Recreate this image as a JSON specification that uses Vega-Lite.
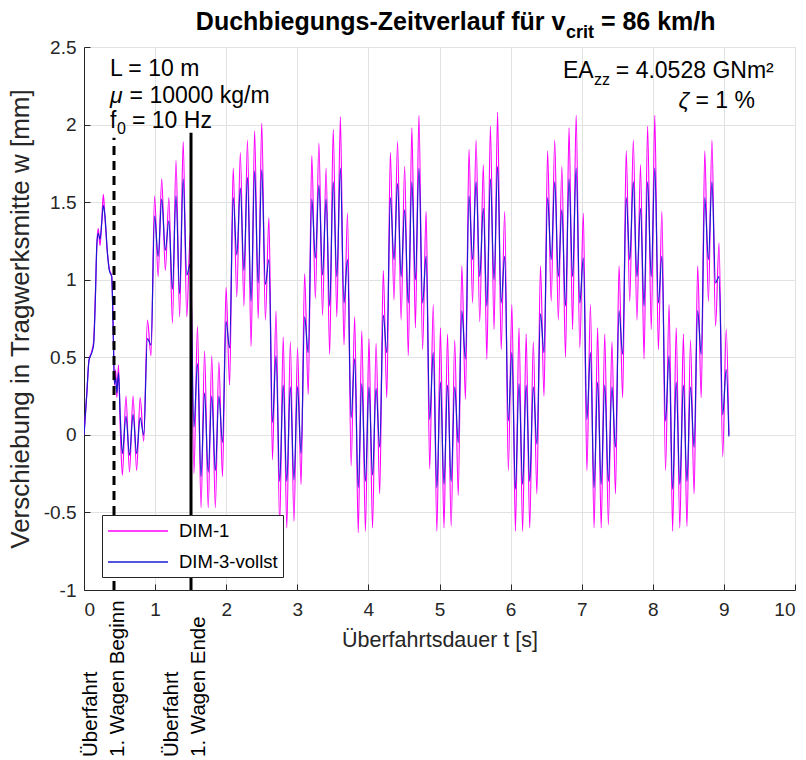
{
  "$schema": "https://vega.github.io/schema/vega-lite/v6.json",
  "width": 711,
  "height": 543,
  "autosize": {"type": "none"},
  "padding": {"left": 84, "top": 47, "right": 11, "bottom": 170},
  "background": "white",
  "config": {"view": {"stroke": null}, "font": "Liberation Sans"},
  "data": {"values": [{"anker": 1}]},
  "layer": [
    {
      "data": {"values": [
        {"t": 0.000, "DIM-1": 0.00, "DIM-3-vollst": 0.00},
        {"t": 0.040, "DIM-1": 0.27, "DIM-3-vollst": 0.27},
        {"t": 0.070, "DIM-1": 0.48, "DIM-3-vollst": 0.48},
        {"t": 0.110, "DIM-1": 0.54, "DIM-3-vollst": 0.53},
        {"t": 0.135, "DIM-1": 0.60, "DIM-3-vollst": 0.58},
        {"t": 0.160, "DIM-1": 0.90, "DIM-3-vollst": 0.88},
        {"t": 0.180, "DIM-1": 1.22, "DIM-3-vollst": 1.22},
        {"t": 0.200, "DIM-1": 1.33, "DIM-3-vollst": 1.30},
        {"t": 0.225, "DIM-1": 1.22, "DIM-3-vollst": 1.26},
        {"t": 0.250, "DIM-1": 1.38, "DIM-3-vollst": 1.37},
        {"t": 0.272, "DIM-1": 1.55, "DIM-3-vollst": 1.48},
        {"t": 0.295, "DIM-1": 1.40, "DIM-3-vollst": 1.41},
        {"t": 0.330, "DIM-1": 1.17, "DIM-3-vollst": 1.17},
        {"t": 0.356, "DIM-1": 1.07, "DIM-3-vollst": 1.06},
        {"t": 0.390, "DIM-1": 1.02, "DIM-3-vollst": 1.02},
        {"t": 0.410, "DIM-1": 0.72, "DIM-3-vollst": 0.68},
        {"t": 0.428, "DIM-1": 0.32, "DIM-3-vollst": 0.33},
        {"t": 0.445, "DIM-1": 0.42, "DIM-3-vollst": 0.37},
        {"t": 0.462, "DIM-1": 0.24, "DIM-3-vollst": 0.27},
        {"t": 0.485, "DIM-1": 0.45, "DIM-3-vollst": 0.40},
        {"t": 0.510, "DIM-1": 0.05, "DIM-3-vollst": 0.12},
        {"t": 0.540, "DIM-1": -0.26, "DIM-3-vollst": -0.12},
        {"t": 0.590, "DIM-1": 0.25, "DIM-3-vollst": 0.12},
        {"t": 0.640, "DIM-1": -0.24, "DIM-3-vollst": -0.13},
        {"t": 0.690, "DIM-1": 0.25, "DIM-3-vollst": 0.13},
        {"t": 0.740, "DIM-1": -0.23, "DIM-3-vollst": -0.12},
        {"t": 0.790, "DIM-1": 0.24, "DIM-3-vollst": 0.11},
        {"t": 0.840, "DIM-1": -0.04, "DIM-3-vollst": 0.00},
        {"t": 0.892, "DIM-1": 0.74, "DIM-3-vollst": 0.62},
        {"t": 0.943, "DIM-1": 0.51, "DIM-3-vollst": 0.58},
        {"t": 0.993, "DIM-1": 1.54, "DIM-3-vollst": 1.41},
        {"t": 1.043, "DIM-1": 1.02, "DIM-3-vollst": 1.15},
        {"t": 1.093, "DIM-1": 1.65, "DIM-3-vollst": 1.52},
        {"t": 1.144, "DIM-1": 1.06, "DIM-3-vollst": 1.19},
        {"t": 1.194, "DIM-1": 1.53, "DIM-3-vollst": 1.38},
        {"t": 1.244, "DIM-1": 0.72, "DIM-3-vollst": 0.94},
        {"t": 1.294, "DIM-1": 1.77, "DIM-3-vollst": 1.54},
        {"t": 1.345, "DIM-1": 0.76, "DIM-3-vollst": 0.91},
        {"t": 1.395, "DIM-1": 1.89, "DIM-3-vollst": 1.65},
        {"t": 1.445, "DIM-1": 0.76, "DIM-3-vollst": 1.03},
        {"t": 1.495, "DIM-1": 1.30, "DIM-3-vollst": 1.10},
        {"t": 1.546, "DIM-1": -0.25, "DIM-3-vollst": 0.05},
        {"t": 1.596, "DIM-1": 0.70, "DIM-3-vollst": 0.46},
        {"t": 1.646, "DIM-1": -0.47, "DIM-3-vollst": -0.27},
        {"t": 1.696, "DIM-1": 0.54, "DIM-3-vollst": 0.27},
        {"t": 1.747, "DIM-1": -0.47, "DIM-3-vollst": -0.24},
        {"t": 1.797, "DIM-1": 0.51, "DIM-3-vollst": 0.25},
        {"t": 1.847, "DIM-1": -0.47, "DIM-3-vollst": -0.23},
        {"t": 1.897, "DIM-1": 0.47, "DIM-3-vollst": 0.25},
        {"t": 1.948, "DIM-1": -0.27, "DIM-3-vollst": -0.05},
        {"t": 1.998, "DIM-1": 0.95, "DIM-3-vollst": 0.73},
        {"t": 2.048, "DIM-1": 0.32, "DIM-3-vollst": 0.56},
        {"t": 2.098, "DIM-1": 1.72, "DIM-3-vollst": 1.53},
        {"t": 2.149, "DIM-1": 0.89, "DIM-3-vollst": 1.16},
        {"t": 2.199, "DIM-1": 1.82, "DIM-3-vollst": 1.59},
        {"t": 2.249, "DIM-1": 0.83, "DIM-3-vollst": 1.06},
        {"t": 2.299, "DIM-1": 1.90, "DIM-3-vollst": 1.66},
        {"t": 2.350, "DIM-1": 0.57, "DIM-3-vollst": 0.86},
        {"t": 2.400, "DIM-1": 1.96, "DIM-3-vollst": 1.70},
        {"t": 2.450, "DIM-1": 0.75, "DIM-3-vollst": 0.98},
        {"t": 2.500, "DIM-1": 2.01, "DIM-3-vollst": 1.71},
        {"t": 2.551, "DIM-1": 0.74, "DIM-3-vollst": 0.97},
        {"t": 2.601, "DIM-1": 1.40, "DIM-3-vollst": 1.13},
        {"t": 2.651, "DIM-1": -0.16, "DIM-3-vollst": 0.08},
        {"t": 2.701, "DIM-1": 0.80, "DIM-3-vollst": 0.51},
        {"t": 2.752, "DIM-1": -0.58, "DIM-3-vollst": -0.30},
        {"t": 2.802, "DIM-1": 0.63, "DIM-3-vollst": 0.32},
        {"t": 2.852, "DIM-1": -0.60, "DIM-3-vollst": -0.30},
        {"t": 2.902, "DIM-1": 0.60, "DIM-3-vollst": 0.31},
        {"t": 2.953, "DIM-1": -0.56, "DIM-3-vollst": -0.29},
        {"t": 3.003, "DIM-1": 0.56, "DIM-3-vollst": 0.31},
        {"t": 3.053, "DIM-1": -0.32, "DIM-3-vollst": -0.12},
        {"t": 3.103, "DIM-1": 1.04, "DIM-3-vollst": 0.76},
        {"t": 3.154, "DIM-1": 0.26, "DIM-3-vollst": 0.53},
        {"t": 3.204, "DIM-1": 1.80, "DIM-3-vollst": 1.52},
        {"t": 3.254, "DIM-1": 0.88, "DIM-3-vollst": 1.14},
        {"t": 3.304, "DIM-1": 1.88, "DIM-3-vollst": 1.61},
        {"t": 3.355, "DIM-1": 0.77, "DIM-3-vollst": 1.03},
        {"t": 3.405, "DIM-1": 1.72, "DIM-3-vollst": 1.52},
        {"t": 3.455, "DIM-1": 0.52, "DIM-3-vollst": 0.83},
        {"t": 3.505, "DIM-1": 1.97, "DIM-3-vollst": 1.63},
        {"t": 3.556, "DIM-1": 0.76, "DIM-3-vollst": 1.02},
        {"t": 3.606, "DIM-1": 2.05, "DIM-3-vollst": 1.72},
        {"t": 3.656, "DIM-1": 0.58, "DIM-3-vollst": 0.85},
        {"t": 3.706, "DIM-1": 1.43, "DIM-3-vollst": 1.13},
        {"t": 3.757, "DIM-1": -0.20, "DIM-3-vollst": 0.11},
        {"t": 3.807, "DIM-1": 0.76, "DIM-3-vollst": 0.49},
        {"t": 3.857, "DIM-1": -0.63, "DIM-3-vollst": -0.34},
        {"t": 3.907, "DIM-1": 0.67, "DIM-3-vollst": 0.33},
        {"t": 3.958, "DIM-1": -0.62, "DIM-3-vollst": -0.30},
        {"t": 4.008, "DIM-1": 0.62, "DIM-3-vollst": 0.31},
        {"t": 4.058, "DIM-1": -0.60, "DIM-3-vollst": -0.26},
        {"t": 4.108, "DIM-1": 0.59, "DIM-3-vollst": 0.30},
        {"t": 4.159, "DIM-1": -0.38, "DIM-3-vollst": -0.08},
        {"t": 4.209, "DIM-1": 1.06, "DIM-3-vollst": 0.77},
        {"t": 4.259, "DIM-1": 0.24, "DIM-3-vollst": 0.53},
        {"t": 4.309, "DIM-1": 1.82, "DIM-3-vollst": 1.53},
        {"t": 4.360, "DIM-1": 0.87, "DIM-3-vollst": 1.13},
        {"t": 4.410, "DIM-1": 1.89, "DIM-3-vollst": 1.62},
        {"t": 4.460, "DIM-1": 0.74, "DIM-3-vollst": 1.02},
        {"t": 4.510, "DIM-1": 1.73, "DIM-3-vollst": 1.45},
        {"t": 4.561, "DIM-1": 0.51, "DIM-3-vollst": 0.85},
        {"t": 4.611, "DIM-1": 1.98, "DIM-3-vollst": 1.63},
        {"t": 4.661, "DIM-1": 0.69, "DIM-3-vollst": 1.00},
        {"t": 4.711, "DIM-1": 2.06, "DIM-3-vollst": 1.72},
        {"t": 4.762, "DIM-1": 0.55, "DIM-3-vollst": 0.85},
        {"t": 4.812, "DIM-1": 1.44, "DIM-3-vollst": 1.15},
        {"t": 4.862, "DIM-1": -0.22, "DIM-3-vollst": 0.10},
        {"t": 4.912, "DIM-1": 0.84, "DIM-3-vollst": 0.53},
        {"t": 4.963, "DIM-1": -0.62, "DIM-3-vollst": -0.34},
        {"t": 5.013, "DIM-1": 0.69, "DIM-3-vollst": 0.34},
        {"t": 5.063, "DIM-1": -0.60, "DIM-3-vollst": -0.32},
        {"t": 5.113, "DIM-1": 0.65, "DIM-3-vollst": 0.32},
        {"t": 5.164, "DIM-1": -0.59, "DIM-3-vollst": -0.30},
        {"t": 5.214, "DIM-1": 0.61, "DIM-3-vollst": 0.31},
        {"t": 5.264, "DIM-1": -0.39, "DIM-3-vollst": -0.05},
        {"t": 5.314, "DIM-1": 1.09, "DIM-3-vollst": 0.80},
        {"t": 5.365, "DIM-1": 0.23, "DIM-3-vollst": 0.49},
        {"t": 5.415, "DIM-1": 1.84, "DIM-3-vollst": 1.54},
        {"t": 5.465, "DIM-1": 0.85, "DIM-3-vollst": 1.13},
        {"t": 5.515, "DIM-1": 1.90, "DIM-3-vollst": 1.63},
        {"t": 5.566, "DIM-1": 0.73, "DIM-3-vollst": 1.02},
        {"t": 5.616, "DIM-1": 1.74, "DIM-3-vollst": 1.46},
        {"t": 5.666, "DIM-1": 0.49, "DIM-3-vollst": 0.83},
        {"t": 5.716, "DIM-1": 1.99, "DIM-3-vollst": 1.65},
        {"t": 5.767, "DIM-1": 0.68, "DIM-3-vollst": 1.00},
        {"t": 5.817, "DIM-1": 2.08, "DIM-3-vollst": 1.73},
        {"t": 5.867, "DIM-1": 0.55, "DIM-3-vollst": 0.85},
        {"t": 5.917, "DIM-1": 1.44, "DIM-3-vollst": 1.15},
        {"t": 5.968, "DIM-1": -0.23, "DIM-3-vollst": 0.09},
        {"t": 6.018, "DIM-1": 0.84, "DIM-3-vollst": 0.53},
        {"t": 6.068, "DIM-1": -0.62, "DIM-3-vollst": -0.35},
        {"t": 6.118, "DIM-1": 0.69, "DIM-3-vollst": 0.33},
        {"t": 6.169, "DIM-1": -0.62, "DIM-3-vollst": -0.32},
        {"t": 6.219, "DIM-1": 0.65, "DIM-3-vollst": 0.32},
        {"t": 6.269, "DIM-1": -0.60, "DIM-3-vollst": -0.30},
        {"t": 6.319, "DIM-1": 0.60, "DIM-3-vollst": 0.31},
        {"t": 6.370, "DIM-1": -0.38, "DIM-3-vollst": -0.06},
        {"t": 6.420, "DIM-1": 1.09, "DIM-3-vollst": 0.78},
        {"t": 6.470, "DIM-1": 0.25, "DIM-3-vollst": 0.53},
        {"t": 6.520, "DIM-1": 1.83, "DIM-3-vollst": 1.53},
        {"t": 6.571, "DIM-1": 0.86, "DIM-3-vollst": 1.13},
        {"t": 6.621, "DIM-1": 1.90, "DIM-3-vollst": 1.63},
        {"t": 6.671, "DIM-1": 0.74, "DIM-3-vollst": 1.02},
        {"t": 6.721, "DIM-1": 1.73, "DIM-3-vollst": 1.45},
        {"t": 6.772, "DIM-1": 0.50, "DIM-3-vollst": 0.83},
        {"t": 6.822, "DIM-1": 1.98, "DIM-3-vollst": 1.65},
        {"t": 6.872, "DIM-1": 0.68, "DIM-3-vollst": 1.02},
        {"t": 6.922, "DIM-1": 2.06, "DIM-3-vollst": 1.72},
        {"t": 6.973, "DIM-1": 0.56, "DIM-3-vollst": 0.85},
        {"t": 7.023, "DIM-1": 1.43, "DIM-3-vollst": 1.14},
        {"t": 7.073, "DIM-1": -0.23, "DIM-3-vollst": 0.10},
        {"t": 7.123, "DIM-1": 0.84, "DIM-3-vollst": 0.53},
        {"t": 7.174, "DIM-1": -0.60, "DIM-3-vollst": -0.34},
        {"t": 7.224, "DIM-1": 0.69, "DIM-3-vollst": 0.34},
        {"t": 7.274, "DIM-1": -0.60, "DIM-3-vollst": -0.32},
        {"t": 7.324, "DIM-1": 0.65, "DIM-3-vollst": 0.32},
        {"t": 7.375, "DIM-1": -0.58, "DIM-3-vollst": -0.30},
        {"t": 7.425, "DIM-1": 0.60, "DIM-3-vollst": 0.31},
        {"t": 7.475, "DIM-1": -0.38, "DIM-3-vollst": -0.08},
        {"t": 7.525, "DIM-1": 1.09, "DIM-3-vollst": 0.80},
        {"t": 7.576, "DIM-1": 0.24, "DIM-3-vollst": 0.52},
        {"t": 7.626, "DIM-1": 1.83, "DIM-3-vollst": 1.53},
        {"t": 7.676, "DIM-1": 0.86, "DIM-3-vollst": 1.13},
        {"t": 7.726, "DIM-1": 1.90, "DIM-3-vollst": 1.63},
        {"t": 7.777, "DIM-1": 0.74, "DIM-3-vollst": 1.02},
        {"t": 7.827, "DIM-1": 1.74, "DIM-3-vollst": 1.46},
        {"t": 7.877, "DIM-1": 0.49, "DIM-3-vollst": 0.83},
        {"t": 7.927, "DIM-1": 1.99, "DIM-3-vollst": 1.63},
        {"t": 7.978, "DIM-1": 0.68, "DIM-3-vollst": 1.02},
        {"t": 8.028, "DIM-1": 2.06, "DIM-3-vollst": 1.72},
        {"t": 8.078, "DIM-1": 0.55, "DIM-3-vollst": 0.85},
        {"t": 8.128, "DIM-1": 1.44, "DIM-3-vollst": 1.15},
        {"t": 8.179, "DIM-1": -0.23, "DIM-3-vollst": 0.09},
        {"t": 8.229, "DIM-1": 0.84, "DIM-3-vollst": 0.51},
        {"t": 8.279, "DIM-1": -0.62, "DIM-3-vollst": -0.35},
        {"t": 8.329, "DIM-1": 0.69, "DIM-3-vollst": 0.34},
        {"t": 8.380, "DIM-1": -0.60, "DIM-3-vollst": -0.32},
        {"t": 8.430, "DIM-1": 0.65, "DIM-3-vollst": 0.32},
        {"t": 8.480, "DIM-1": -0.59, "DIM-3-vollst": -0.30},
        {"t": 8.530, "DIM-1": 0.61, "DIM-3-vollst": 0.31},
        {"t": 8.581, "DIM-1": -0.38, "DIM-3-vollst": -0.08},
        {"t": 8.631, "DIM-1": 1.09, "DIM-3-vollst": 0.80},
        {"t": 8.681, "DIM-1": 0.24, "DIM-3-vollst": 0.52},
        {"t": 8.731, "DIM-1": 1.83, "DIM-3-vollst": 1.53},
        {"t": 8.782, "DIM-1": 0.86, "DIM-3-vollst": 1.13},
        {"t": 8.832, "DIM-1": 1.90, "DIM-3-vollst": 1.63},
        {"t": 8.882, "DIM-1": 0.70, "DIM-3-vollst": 0.98},
        {"t": 8.932, "DIM-1": 1.24, "DIM-3-vollst": 1.02},
        {"t": 8.983, "DIM-1": -0.14, "DIM-3-vollst": 0.13},
        {"t": 9.033, "DIM-1": 0.68, "DIM-3-vollst": 0.42},
        {"t": 9.070, "DIM-1": 0.00, "DIM-3-vollst": -0.01}
      ]},
      "transform": [{"fold": ["DIM-1", "DIM-3-vollst"], "as": ["Modell", "w"]}],
      "mark": {"type": "line", "strokeWidth": 1.2, "interpolate": "monotone", "clip": true},
      "encoding": {
        "x": {
          "field": "t", "type": "quantitative",
          "scale": {"domain": [0, 10], "nice": false, "zero": false},
          "axis": {
            "title": "Überfahrtsdauer t [s]",
            "values": [0, 1, 2, 3, 4, 5, 6, 7, 8, 9, 10],
            "format": "d",
            "grid": true, "gridColor": "#e2e2e2",
            "domainColor": "#262626", "tickColor": "#262626",
            "tickSize": -6,
            "labelPadding": 16,
            "labelFontSize": 19, "labelColor": "#262626", "labelFont": "Liberation Sans",
            "titleFontSize": 21.5, "titleFontWeight": "normal", "titleColor": "#262626", "titleFont": "Liberation Sans",
            "titlePadding": 10
          }
        },
        "y": {
          "field": "w", "type": "quantitative",
          "scale": {"domain": [-1, 2.5], "nice": false, "zero": false},
          "axis": {
            "title": "Verschiebung in Tragwerksmitte w [mm]",
            "values": [-1, -0.5, 0, 0.5, 1, 1.5, 2, 2.5],
            "labelExpr": "toString(datum.value)",
            "grid": true, "gridColor": "#e2e2e2",
            "domainColor": "#262626", "tickColor": "#262626",
            "tickSize": -6,
            "labelPadding": 14,
            "labelFontSize": 19, "labelColor": "#262626", "labelFont": "Liberation Sans",
            "titleFontSize": 26, "titleFontWeight": "normal", "titleColor": "#262626", "titleFont": "Liberation Sans",
            "titlePadding": 10
          }
        },
        "color": {
          "field": "Modell", "type": "nominal",
          "scale": {"domain": ["DIM-1", "DIM-3-vollst"], "range": ["#ff00ff", "#1a1ad0"]},
          "legend": {
            "title": null,
            "orient": "none", "legendX": 18, "legendY": 468,
            "symbolType": "M-1,0H5", "symbolSize": 400, "symbolStrokeWidth": 1.3,
            "labelFontSize": 18.5, "labelFont": "Liberation Sans", "labelColor": "#000000",
            "labelOffset": 50, "rowPadding": 10, "padding": 5,
            "strokeColor": "#262626", "fillColor": "#ffffff", "cornerRadius": 0
          }
        }
      }
    },
    {
      "mark": {"type": "rule", "strokeWidth": 3, "color": "#000000", "strokeDash": [9, 6]},
      "encoding": {"x": {"datum": 0.422}, "y": {"datum": -1}, "y2": {"datum": 1.915}}
    },
    {
      "mark": {"type": "rule", "strokeWidth": 3, "color": "#000000"},
      "encoding": {"x": {"datum": 1.505}, "y": {"datum": -1}, "y2": {"datum": 1.947}}
    },
    {
      "mark": {"type": "text", "text": ["Überfahrt", "1. Wagen Beginn"], "angle": 270, "align": "left", "baseline": "alphabetic", "fontSize": 20.5, "lineHeight": 27, "font": "Liberation Sans", "color": "#000000"},
      "encoding": {"x": {"datum": 0.183}, "y": {"datum": -2.076}}
    },
    {
      "mark": {"type": "text", "text": ["Überfahrt", "1. Wagen Ende"], "angle": 270, "align": "left", "baseline": "alphabetic", "fontSize": 20.5, "lineHeight": 27, "font": "Liberation Sans", "color": "#000000"},
      "encoding": {"x": {"datum": 1.322}, "y": {"datum": -2.076}}
    },
    {
      "mark": {"type": "text", "text": "Duchbiegungs-Zeitverlauf für v", "align": "right", "baseline": "alphabetic", "fontSize": 25, "fontWeight": "bold", "font": "Liberation Sans", "color": "#000000"},
      "encoding": {"x": {"datum": 6.77}, "y": {"datum": 2.611}}
    },
    {
      "mark": {"type": "text", "text": "crit", "align": "left", "baseline": "alphabetic", "fontSize": 18, "fontWeight": "bold", "font": "Liberation Sans", "color": "#000000"},
      "encoding": {"x": {"datum": 6.78}, "y": {"datum": 2.56}}
    },
    {
      "mark": {"type": "text", "text": "= 86 km/h", "align": "left", "baseline": "alphabetic", "fontSize": 25, "fontWeight": "bold", "font": "Liberation Sans", "color": "#000000"},
      "encoding": {"x": {"datum": 7.27}, "y": {"datum": 2.611}}
    },
    {
      "mark": {"type": "text", "text": "L = 10 m", "align": "left", "baseline": "alphabetic", "fontSize": 23, "font": "Liberation Sans", "color": "#000000"},
      "encoding": {"x": {"datum": 0.366}, "y": {"datum": 2.315}}
    },
    {
      "mark": {"type": "text", "text": "μ", "align": "left", "baseline": "alphabetic", "fontSize": 23, "fontStyle": "italic", "font": "Liberation Sans", "color": "#000000"},
      "encoding": {"x": {"datum": 0.366}, "y": {"datum": 2.141}}
    },
    {
      "mark": {"type": "text", "text": "= 10000 kg/m", "align": "left", "baseline": "alphabetic", "fontSize": 23, "font": "Liberation Sans", "color": "#000000"},
      "encoding": {"x": {"datum": 0.641}, "y": {"datum": 2.141}}
    },
    {
      "mark": {"type": "text", "text": "f", "align": "left", "baseline": "alphabetic", "fontSize": 23, "font": "Liberation Sans", "color": "#000000"},
      "encoding": {"x": {"datum": 0.366}, "y": {"datum": 1.979}}
    },
    {
      "mark": {"type": "text", "text": "0", "align": "left", "baseline": "alphabetic", "fontSize": 16, "font": "Liberation Sans", "color": "#000000"},
      "encoding": {"x": {"datum": 0.464}, "y": {"datum": 1.941}}
    },
    {
      "mark": {"type": "text", "text": "= 10 Hz", "align": "left", "baseline": "alphabetic", "fontSize": 23, "font": "Liberation Sans", "color": "#000000"},
      "encoding": {"x": {"datum": 0.675}, "y": {"datum": 1.979}}
    },
    {
      "mark": {"type": "text", "text": "EA", "align": "left", "baseline": "alphabetic", "fontSize": 23, "font": "Liberation Sans", "color": "#000000"},
      "encoding": {"x": {"datum": 6.737}, "y": {"datum": 2.302}}
    },
    {
      "mark": {"type": "text", "text": "zz", "align": "left", "baseline": "alphabetic", "fontSize": 16, "font": "Liberation Sans", "color": "#000000"},
      "encoding": {"x": {"datum": 7.173}, "y": {"datum": 2.257}}
    },
    {
      "mark": {"type": "text", "text": "= 4.0528 GNm²", "align": "left", "baseline": "alphabetic", "fontSize": 23, "font": "Liberation Sans", "color": "#000000"},
      "encoding": {"x": {"datum": 7.48}, "y": {"datum": 2.302}}
    },
    {
      "mark": {"type": "text", "text": "ζ", "align": "right", "baseline": "alphabetic", "fontSize": 23, "fontStyle": "italic", "font": "Liberation Sans", "color": "#000000"},
      "encoding": {"x": {"datum": 8.51}, "y": {"datum": 2.108}}
    },
    {
      "mark": {"type": "text", "text": "= 1 %", "align": "right", "baseline": "alphabetic", "fontSize": 23, "font": "Liberation Sans", "color": "#000000"},
      "encoding": {"x": {"datum": 9.437}, "y": {"datum": 2.108}}
    }
  ]
}
